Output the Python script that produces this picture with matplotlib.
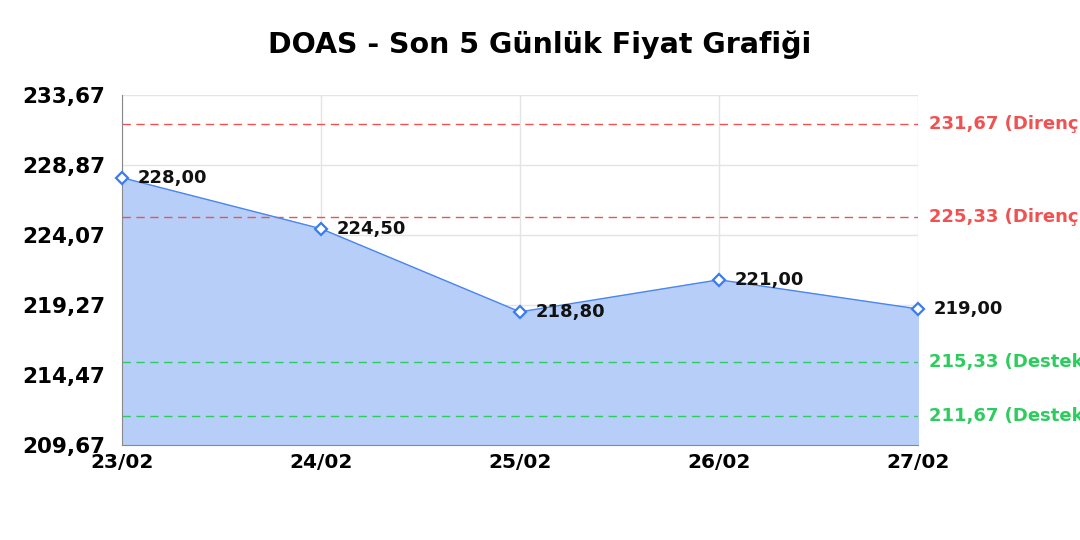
import matplotlib
matplotlib.use('Agg')
import matplotlib.pyplot as plt

plt.rcParams['font.family'] = ['DejaVu Sans']

dates = ['23/02', '24/02', '25/02', '26/02', '27/02']
prices = [228.00, 224.50, 218.80, 221.00, 219.00]
resist = [231.67, 225.33]
support = [215.33, 211.67]
yticks = [209.67, 214.47, 219.27, 224.07, 228.87, 233.67]

def tr(v):
    return f'{v:.2f}'.replace('.', ',')

fig = plt.figure(figsize=(10.8, 5.4), dpi=100)
ax = fig.add_axes([0.113, 0.176, 0.737, 0.648])

x = list(range(len(dates)))
ax.fill_between(x, prices, yticks[0], color='#b7cff8', zorder=1)
ax.plot(x, prices, color='#4a86f0', lw=1, zorder=3)
ax.plot(x, prices, ls='none', marker='D', ms=6, mfc='white', mec='#3b7bf0', mew=1.6, zorder=4, clip_on=False)

for xi, p in zip(x, prices):
    ax.annotate(tr(p), (xi, p), xytext=(11, 0), textcoords='offset points',
                va='center', ha='left', fontsize=13, fontweight='bold', color='#111111', zorder=5)

for r in resist:
    ax.axhline(r, color='#f05252', ls=(0, (6, 4)), lw=1, zorder=2)
    ax.annotate(f'{tr(r)} (Direnç)', (1, r), xycoords=('axes fraction', 'data'), xytext=(8, 0),
                textcoords='offset points', va='center', ha='left', fontsize=13,
                fontweight='bold', color='#f05252', annotation_clip=False)
for s in support:
    ax.axhline(s, color='#2ecc5e', ls=(0, (6, 4)), lw=1, zorder=2)
    ax.annotate(f'{tr(s)} (Destek)', (1, s), xycoords=('axes fraction', 'data'), xytext=(8, 0),
                textcoords='offset points', va='center', ha='left', fontsize=13,
                fontweight='bold', color='#2ecc5e', annotation_clip=False)

ax.set_xlim(0, len(dates) - 1)
ax.set_ylim(yticks[0], yticks[-1])
ax.set_xticks(x)
ax.set_xticklabels(dates, fontsize=14.5, fontweight='bold')
ax.set_yticks(yticks)
ax.set_yticklabels([tr(v) for v in yticks], fontsize=15.5, fontweight='bold')
ax.tick_params(axis='y', length=0, pad=12)
ax.tick_params(axis='x', length=0, pad=6)
ax.grid(True, color='#e4e4e4', lw=1, zorder=0)
ax.set_axisbelow(True)
for s in ['top', 'right']:
    ax.spines[s].set_visible(False)
ax.spines['left'].set_color('#888888')
ax.spines['bottom'].set_color('#888888')

fig.suptitle('DOAS - Son 5 Günlük Fiyat Grafiği', x=0.5, y=0.918, va='center',
             fontsize=20.5, fontweight='bold')

fig.savefig('out.png', dpi=100)
